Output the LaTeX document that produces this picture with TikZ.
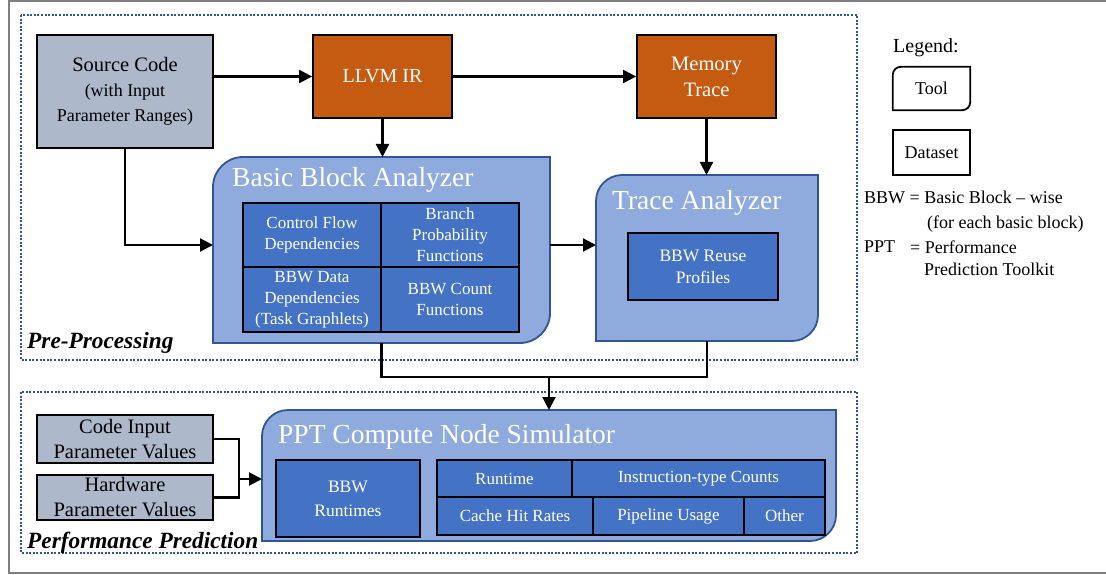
\documentclass[tikz,border=0pt]{standalone}
\usepackage{fontspec}
\setmainfont{Liberation Serif}
\usetikzlibrary{arrows.meta,calc}

\definecolor{srcgray}{HTML}{ADB9CA}
\definecolor{irorange}{HTML}{C55A11}
\definecolor{toolblue}{HTML}{8FAADC}
\definecolor{cellblue}{HTML}{4472C4}
\definecolor{edgeblue}{HTML}{2F5597}
\definecolor{framegray}{HTML}{7F7F7F}

\newcommand{\fs}[2]{\fontsize{#1}{#2}\selectfont}
% outline with two rounded corners (top left, bottom right)
\newcommand{\toolframe}[3][toolpath]{%
  \path[#1] ([yshift=-#3]#2.north west)
    .. controls ([yshift=-0.45*#3]#2.north west) and ([xshift=0.45*#3]#2.north west) .. ([xshift=#3]#2.north west)
    -- (#2.north east) -- ([yshift=#3]#2.south east)
    .. controls ([yshift=0.45*#3]#2.south east) and ([xshift=-0.45*#3]#2.south east) .. ([xshift=-#3]#2.south east)
    -- (#2.south west) -- cycle;}

\tikzset{
  inputbox/.style={draw=black, line width=1.8pt, fill=srcgray, align=center, inner sep=0pt},
  irbox/.style={draw=black, line width=1.8pt, fill=irorange, text=white, align=center, inner sep=0pt},
  toolbody/.style={inner sep=0pt, outer sep=0pt},
  toolpath/.style={draw=edgeblue, line width=1.8pt, fill=toolblue},
  legendtool/.style={draw=black, line width=1.8pt},
  cellbox/.style={draw=black, line width=2.4pt, fill=cellblue, text=white, align=center, inner sep=0pt, font=\fs{17}{21}},
  tooltitle/.style={text=white, anchor=west, inner sep=0pt, font=\fs{27.5}{30}},
  stagebox/.style={draw=edgeblue, line width=2pt, dash pattern=on 2pt off 1.6pt},
  stagelabel/.style={anchor=west, inner sep=0pt, font=\fs{23.3}{26}\bfseries\itshape},
  legendtext/.style={anchor=west, inner sep=0pt, font=\fs{18}{22}},
  wire/.style={line width=2.2pt},
  link/.style={wire, -{Triangle[length=13pt,width=13pt]}},
}

\begin{document}
\begin{tikzpicture}[x=1pt, y=-1pt]
  \useasboundingbox (0,0) rectangle (1106,575);
  \draw[framegray, line width=1.2pt] (9,1) rectangle (1112,573);

  % stages
  \draw[stagebox] (21,15) rectangle (857,360);
  \draw[stagebox] (21,392) rectangle (857,553);
  \node[stagelabel] (prelabel) at (27,343) {Pre-Processing};
  \node[stagelabel] (perflabel) at (27,543) {Performance Prediction};

  % inputs and datasets
  \node[inputbox, minimum width=176pt, minimum height=113pt, font=\fs{18}{25}] (src) at (125,91.5)
    {{\fs{20.5}{25}Source Code}\\(with Input\\Parameter Ranges)};
  \node[irbox, minimum width=139pt, minimum height=83pt, font=\fs{20}{26}] (ir) at (382.5,76.5) {LLVM IR};
  \node[irbox, minimum width=139pt, minimum height=83pt, font=\fs{20.5}{26}] (mem) at (706.5,76.5) {Memory\\Trace};

  % basic block analyzer
  \node[toolbody, minimum width=337pt, minimum height=186pt] (bba) at (381.5,250) {};
  \toolframe{bba}{30pt}
  \node[tooltitle] (bbatitle) at (232,180) {Basic Block Analyzer};
  \node[cellbox, minimum width=138pt, minimum height=64.5pt] (cfd) at (312,235) {Control Flow\\Dependencies};
  \node[cellbox, minimum width=138pt, minimum height=64.5pt] (bpf) at (450,235) {Branch\\Probability\\Functions};
  \node[cellbox, minimum width=138pt, minimum height=64.5pt] (bdd) at (312,299.5) {BBW Data\\Dependencies\\(Task Graphlets)};
  \node[cellbox, minimum width=138pt, minimum height=64.5pt] (bcf) at (450,299.5) {BBW Count\\Functions};

  % trace analyzer
  \node[toolbody, minimum width=222pt, minimum height=166pt] (trace) at (707,258) {};
  \toolframe{trace}{26pt}
  \node[tooltitle] (tracetitle) at (612,203) {Trace Analyzer};
  \node[cellbox, minimum width=150pt, minimum height=67pt, font=\fs{17.5}{22}] (reuse) at (703,266.5) {BBW Reuse\\Profiles};

  % simulator
  \node[toolbody, minimum width=574pt, minimum height=131pt] (ppt) at (549,475.5) {};
  \toolframe{ppt}{26pt}
  \node[tooltitle] (ppttitle) at (278,437) {PPT Compute Node Simulator};
  \node[cellbox, minimum width=144pt, minimum height=77pt, font=\fs{17.5}{24}] (bbwrt) at (348,498.5) {BBW\\Runtimes};
  \node[cellbox, minimum width=135pt, minimum height=37pt] (runtime) at (504.5,478.5) {Runtime};
  \node[cellbox, minimum width=253pt, minimum height=37pt] (itc) at (698.5,478.5) {Instruction-type Counts};
  \node[cellbox, minimum width=156pt, minimum height=38pt] (chr) at (515,516) {Cache Hit Rates};
  \node[cellbox, minimum width=151pt, minimum height=38pt] (pipe) at (668.5,516) {Pipeline Usage};
  \node[cellbox, minimum width=81pt, minimum height=38pt] (other) at (784.5,516) {Other};

  \node[inputbox, minimum width=176pt, minimum height=48pt, font=\fs{20.5}{25}] (codein) at (125,439) {Code Input\\Parameter Values};
  \node[inputbox, minimum width=176pt, minimum height=45pt, font=\fs{20.5}{25}] (hwin) at (125,497.5) {Hardware\\Parameter Values};

  % connectors
  \draw[link] (src.east |- ir.west) -- (ir.west);
  \draw[link] (ir) -- (mem);
  \draw[link] (ir.south) -- (ir.south |- bba.north);
  \draw[link] (src.south) |- ([yshift=5pt]bba.west);
  \draw[link] ([yshift=5pt]bba.east) -- ([yshift=5pt]bba.east -| trace.west);
  \draw[link] (mem.south) -- (mem.south |- trace.north);
  \coordinate (join) at (549,377);
  \draw[wire] (bba.south) |- (trace.south |- join) -- (trace.south);
  \draw[link] (join) -- (join |- ppt.north);
  \coordinate (fork) at (239,479);
  \draw[wire] (codein.east) -| (fork) |- (hwin.east);
  \draw[link] (fork) -- (fork -| ppt.west);

  % legend
  \node[anchor=west, inner sep=0pt, font=\fs{20}{24}] (legendhead) at (893,48) {Legend:};
  \node[minimum width=77pt, minimum height=43pt, inner sep=0pt, font=\fs{18}{22}] (ltool) at (931.5,88.5) {Tool};
  \toolframe[legendtool]{ltool}{8pt}
  \node[draw=black, line width=1.8pt, minimum width=77pt, minimum height=45pt, inner sep=0pt, font=\fs{18}{22}] (ldata) at (931.5,152.5) {Dataset};
  \node[legendtext] (bbwkey) at (864,197) {BBW = Basic Block – wise};
  \node[legendtext] (bbwnote) at (927,224) {(for each basic block)};
  \node[legendtext] (pptkey) at (864,247) {PPT};
  \node[legendtext] (pptval) at (910,247) {= Performance};
  \node[legendtext] (pptnote) at (924,269) {Prediction Toolkit};
\end{tikzpicture}
\end{document}
